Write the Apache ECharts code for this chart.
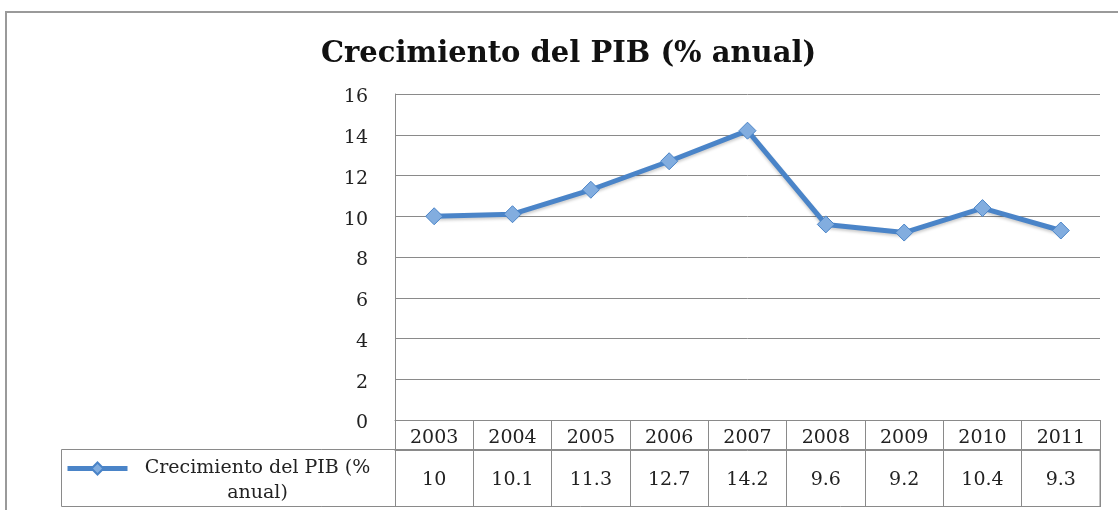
<!DOCTYPE html>
<html>
<head>
<meta charset="utf-8">
<script src="https://cdn.jsdelivr.net/npm/echarts@6/dist/echarts.min.js"></script>
<style>
html,body{margin:0;padding:0;background:#fff;}
#chart{width:1118px;height:510px;}
</style>
</head>
<body>
<div id="chart"></div>
<script>
var titleText = 'Crecimiento del PIB (% anual)';
var seriesName = 'Crecimiento del PIB (% anual)';
var years = ['2003','2004','2005','2006','2007','2008','2009','2010','2011'];
var growth = [10, 10.1, 11.3, 12.7, 14.2, 9.6, 9.2, 10.4, 9.3];
var yTicks = { min: 0, max: 16, interval: 2 };

var FONT = 'DejaVu Serif';
var chart = echarts.init(document.getElementById('chart'));
var gridColor = '#8a8a8a';

chart.setOption({
  backgroundColor: '#ffffff',
  animation: false,
  title: {
    text: titleText,
    left: 316,
    top: 35,
    textStyle: { fontFamily: FONT, fontWeight: 'bold', fontSize: 29, color: '#111' }
  },
  grid: { left: 395, right: 18, top: 94, bottom: 90, containLabel: false },
  legend: {
    left: 65,
    top: 434,
    padding: 0,
    selectedMode: false,
    itemWidth: 60,
    itemHeight: 15,
    itemGap: 0,
    data: [seriesName],
    lineStyle: { width: 5 },
    formatter: function () {
      return '{a| }\n{a|Crecimiento del PIB (%}\n{a|anual)}';
    },
    textStyle: {
      fontFamily: FONT, fontSize: 19, color: '#222',
      rich: { a: { fontFamily: FONT, fontSize: 19, color: '#222', width: 250, align: 'center', lineHeight: 25 } }
    }
  },
  xAxis: [
    {
      type: 'category',
      data: years,
      position: 'bottom',
      boundaryGap: true,
      axisLine: { show: true, lineStyle: { color: gridColor, width: 1 } },
      axisTick: { show: true, length: 30, alignWithLabel: false, lineStyle: { color: gridColor, width: 1 } },
      axisLabel: { margin: 9, fontFamily: FONT, fontSize: 19, color: '#222', interval: 0 },
      splitLine: { show: false }
    },
    {
      type: 'category',
      data: years,
      position: 'bottom',
      offset: 30,
      boundaryGap: true,
      axisLine: { show: true, lineStyle: { color: gridColor, width: 1 } },
      axisTick: { show: true, length: 57, alignWithLabel: false, lineStyle: { color: gridColor, width: 1 } },
      axisLabel: {
        margin: 21, fontFamily: FONT, fontSize: 19, color: '#222', interval: 0,
        formatter: function (v, i) { return String(growth[i]); }
      },
      splitLine: { show: false }
    }
  ],
  yAxis: {
    type: 'value',
    min: yTicks.min,
    max: yTicks.max,
    interval: yTicks.interval,
    axisLine: { show: true, lineStyle: { color: gridColor, width: 1 } },
    axisTick: { show: false },
    axisLabel: {
      margin: 27, fontFamily: FONT, fontSize: 19, color: '#222',
      formatter: function (v) { return '{v|' + v + '}'; },
      rich: { v: { fontFamily: FONT, fontSize: 19, color: '#222', padding: [7, 0, 0, 0] } }
    },
    splitLine: { show: true, lineStyle: { color: gridColor, width: 1 } }
  },
  graphic: [
    {
      type: 'rect',
      shape: { x: 6, y: 12, width: 1140, height: 540 },
      style: { fill: 'none', stroke: '#9a9a9a', lineWidth: 2 },
      silent: true, z: -1
    },
    {
      type: 'rect',
      shape: { x: 61.5, y: 449.5, width: 1038.5, height: 57 },
      style: { fill: 'none', stroke: gridColor, lineWidth: 1 },
      silent: true
    }
  ],
  series: [
    {
      name: seriesName,
      type: 'line',
      xAxisIndex: 0,
      data: growth,
      symbol: 'diamond',
      symbolSize: 17,
      lineStyle: { color: '#4a84c8', width: 5, shadowColor: 'rgba(0,0,0,0.2)', shadowBlur: 3, shadowOffsetY: 2 },
      itemStyle: { color: '#82addf', borderColor: '#4a84c8', borderWidth: 1 },
      z: 5
    }
  ]
});
</script>
</body>
</html>
